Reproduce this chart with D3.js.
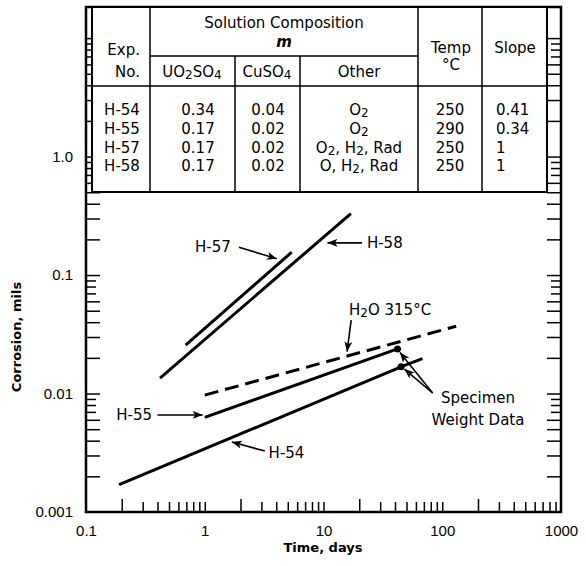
<!DOCTYPE html>
<meta charset="utf-8">
<html>
<head>
<title>Corrosion vs time</title>
<script src="https://d3js.org/d3.v7.min.js"></script>
<style>
  body { margin: 0; background: #fff; }
  svg { font-family: "DejaVu Sans", sans-serif; }
  .tbl text { font-size: 15px; }
  .axis text { font-size: 15px; }
  .axis path.domain { display: none; }
  .axis line { stroke: #000; stroke-width: 1.5px; }
  .title { font-size: 13px; font-weight: bold; }
  .ann { font-size: 15px; }
</style>
</head>
<body>
<div id="chart"></div>
<script>
// ---- table data ----
var expNo  = ["H-54", "H-55", "H-57", "H-58"];
var uo2so4 = ["0.34", "0.17", "0.17", "0.17"];
var cuso4  = ["0.04", "0.02", "0.02", "0.02"];
var other  = ["O_2", "O_2", "O_2, H_2, Rad", "O, H_2, Rad"];
var temp   = ["250", "290", "250", "250"];
var slope  = ["0.41", "0.34", "1", "1"];

// ---- curves (days, mils) ----
var h54Days = [0.19, 45],  h54Corr = [0.0017, 0.0168];
var h54ExtDays = [47, 68], h54ExtCorr = [0.0171, 0.0197];
var h55Days = [1.0, 42],   h55Corr = [0.0063, 0.0238];
var h57Days = [0.69, 5.4], h57Corr = [0.0256, 0.156];
var h58Days = [0.42, 17],  h58Corr = [0.0135, 0.33];
var h2oDays = [1.0, 131],  h2oCorr = [0.0097, 0.037];
var specDays = [42, 45],   specCorr = [0.0238, 0.0168];

var xTickLabels = ["0.1", "1", "10", "100", "1000"];
var xTickVals   = [0.1, 1, 10, 100, 1000];
var yTickLabels = ["0.001", "0.01", "0.1", "1.0"];
var yTickVals   = [0.001, 0.01, 0.1, 1];

var W = 586, H = 566;
var svg = d3.select("#chart").append("svg").attr("width", W).attr("height", H);

var x = d3.scaleLog().domain([0.1, 1000]).range([86, 561]);
var y = d3.scaleLog().domain([0.001, 18.3]).range([512, 7]);

// minor ticks
var xMinor = [];
[0.1, 1, 10, 100].forEach(function(d) {
  for (var k = 1; k <= 9; k++) if (d * k > 0.1) xMinor.push(d * k);
});
var yMinor = [];
[0.001, 0.01, 0.1, 1, 10].forEach(function(d) {
  for (var k = 1; k <= 9; k++) if (d * k > 0.001 && d * k < 18) yMinor.push(d * k);
});
function lead(v) { return Math.round(v / Math.pow(10, Math.floor(Math.log10(v) + 1e-9))); }

var gx = svg.append("g").attr("class", "axis")
  .attr("transform", "translate(0," + y(0.001) + ")")
  .call(d3.axisBottom(x).tickValues(xMinor).tickSizeOuter(0).tickFormat(""));
gx.selectAll(".tick line").attr("y2", function(d) { return lead(d) == 2 ? -13 : -10; });

svg.append("g").attr("class", "axis")
  .attr("transform", "translate(0," + (y(0.001) + 10) + ")")
  .call(d3.axisBottom(x).tickValues(xTickVals).tickSize(0)
    .tickFormat(function(d, i) { return xTickLabels[i]; }));

var gyl = svg.append("g").attr("class", "axis")
  .attr("transform", "translate(" + x(0.1) + ",0)")
  .call(d3.axisLeft(y).tickValues(yMinor).tickSizeOuter(0).tickFormat(""));
gyl.selectAll(".tick line").attr("x2", function(d) { return lead(d) >= 7 ? 10 : 14; });

var gyr = svg.append("g").attr("class", "axis")
  .attr("transform", "translate(" + x(1000) + ",0)")
  .call(d3.axisRight(y).tickValues(yMinor).tickSizeOuter(0).tickFormat(""));
gyr.selectAll(".tick line").attr("x2", function(d) { return lead(d) >= 7 ? -10 : -14; });

svg.append("g").attr("class", "axis")
  .attr("transform", "translate(" + (x(0.1) - 10) + ",0)")
  .call(d3.axisLeft(y).tickValues(yTickVals).tickSize(0)
    .tickFormat(function(d, i) { return yTickLabels[i]; }));

// frame
svg.append("rect")
  .attr("x", x(0.1)).attr("y", y.range()[1])
  .attr("width", x(1000) - x(0.1)).attr("height", y(0.001) - y.range()[1])
  .attr("fill", "none").attr("stroke", "#000").attr("stroke-width", 2.5);

// axis titles
svg.append("text").attr("class", "title")
  .attr("x", 323).attr("y", 552).attr("text-anchor", "middle").text("Time, days");
svg.append("text").attr("class", "title")
  .attr("transform", "translate(21,337) rotate(-90)").attr("text-anchor", "middle")
  .text("Corrosion, mils");

// ---- table ----
var cols = [92, 150, 235, 300, 418, 482, 547];
var tTop = 7, tSub = 56, tHead = 86, tBot = 192;
var rowY = [110, 129, 148, 166];
var tbl = svg.append("g").attr("class", "tbl");
tbl.append("rect").attr("x", cols[0]).attr("y", tTop)
  .attr("width", cols[6] - cols[0]).attr("height", tBot - tTop)
  .attr("fill", "#fff").attr("stroke", "#000").attr("stroke-width", 2);
function hl(x1, x2, yy) {
  tbl.append("line").attr("x1", x1).attr("x2", x2).attr("y1", yy).attr("y2", yy)
    .attr("stroke", "#000").attr("stroke-width", 1.5);
}
function vl(xx, y1, y2) {
  tbl.append("line").attr("x1", xx).attr("x2", xx).attr("y1", y1).attr("y2", y2)
    .attr("stroke", "#000").attr("stroke-width", 1.5);
}
hl(cols[1], cols[4], tSub);
hl(cols[0], cols[6], tHead);
vl(cols[1], tTop, tBot);
vl(cols[2], tSub, tBot);
vl(cols[3], tSub, tBot);
vl(cols[4], tTop, tBot);
vl(cols[5], tTop, tBot);

// text with _n subscripts
function subText(sel, str) {
  str.split(/(_\d)/).forEach(function(p) {
    if (!p) return;
    if (p[0] == "_") sel.append("tspan").attr("baseline-shift", "-18%")
      .attr("font-size", "80%").text(p.slice(1));
    else sel.append("tspan").text(p);
  });
}
function tt(xx, yy, str, anchor) {
  var t = tbl.append("text").attr("x", xx).attr("y", yy).attr("dy", "0.35em")
    .attr("text-anchor", anchor || "middle");
  subText(t, str);
  return t;
}
tt(140, 50, "Exp.", "end");
tt(140, 72, "No.", "end");
tt(284, 23, "Solution Composition");
tt(284, 42, "m").attr("font-style", "italic").attr("font-weight", "bold").attr("font-size", 11);
tt(192, 72, "UO_2SO_4");
tt(267, 72, "CuSO_4");
tt(359, 72, "Other");
tt(451, 48, "Temp");
tt(451, 65, "°C");
tt(515, 48, "Slope");
rowY.forEach(function(ry, i) {
  tt(122, ry, expNo[i]);
  tt(198, ry, uo2so4[i]);
  tt(268, ry, cuso4[i]);
  tt(359, ry, other[i]);
  tt(450, ry, temp[i]);
  tt(496, ry, slope[i], "start");
});

// ---- curves ----
var line = d3.line().x(function(d) { return x(d[0]); }).y(function(d) { return y(d[1]); });
function curve(days, corr, dash) {
  svg.append("path").datum(days.map(function(d, i) { return [d, corr[i]]; }))
    .attr("d", line).attr("fill", "none").attr("stroke", "#000")
    .attr("stroke-width", 3).attr("stroke-dasharray", dash || null);
}
curve(h58Days, h58Corr);
curve(h57Days, h57Corr);
curve(h55Days, h55Corr);
curve(h54Days, h54Corr);
curve(h54ExtDays, h54ExtCorr);
curve(h2oDays, h2oCorr, "14,7");

svg.selectAll("circle.spec").data(specDays).enter().append("circle")
  .attr("class", "spec")
  .attr("cx", function(d) { return x(d); })
  .attr("cy", function(d, i) { return y(specCorr[i]); })
  .attr("r", 3.5).attr("fill", "#000");

// ---- annotations (data coordinates) ----
svg.append("defs").append("marker").attr("id", "ah")
  .attr("viewBox", "0 0 10 8").attr("refX", 10).attr("refY", 4)
  .attr("markerWidth", 10).attr("markerHeight", 8).attr("markerUnits", "userSpaceOnUse")
  .attr("orient", "auto")
  .append("path").attr("d", "M0,0 L10,4 L0,8 L2.5,4Z").attr("fill", "#000");

var arrows = [
  [1.94, 0.172, 4.05, 0.137],   // H-57
  [21.1, 0.187, 10.8, 0.187],   // H-58
  [0.40, 0.00659, 0.96, 0.00659], // H-55
  [3.21, 0.00327, 1.69, 0.0039],  // H-54
  [17.1, 0.0417, 15.8, 0.0226],   // H2O
  [83, 0.0101, 44, 0.0222],       // specimen upper
  [83, 0.0101, 48, 0.0161]        // specimen lower
];
svg.selectAll("line.arr").data(arrows).enter().append("line")
  .attr("class", "arr")
  .attr("x1", function(d) { return x(d[0]); }).attr("y1", function(d) { return y(d[1]); })
  .attr("x2", function(d) { return x(d[2]); }).attr("y2", function(d) { return y(d[3]); })
  .attr("stroke", "#000").attr("stroke-width", 1.6).attr("marker-end", "url(#ah)");

var labels = [
  [1.66, 0.172, "H-57", "end"],
  [23.2, 0.187, "H-58", "start"],
  [0.36, 0.00659, "H-55", "end"],
  [3.45, 0.00318, "H-54", "start"],
  [16.4, 0.0507, "H_2O 315°C", "start"],
  [200, 0.0093, "Specimen", "middle"],
  [200, 0.0060, "Weight Data", "middle"]
];
labels.forEach(function(l) {
  var t = svg.append("text").attr("class", "ann")
    .attr("x", x(l[0])).attr("y", y(l[1])).attr("dy", "0.35em")
    .attr("text-anchor", l[3]);
  subText(t, l[2]);
});
</script>
</body>
</html>
